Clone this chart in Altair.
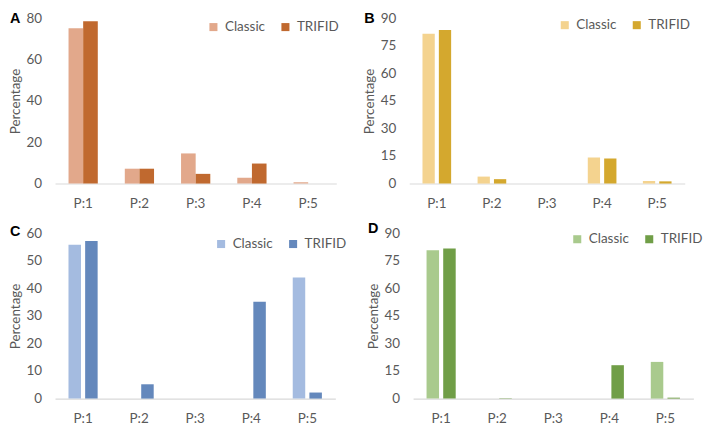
import altair as alt
import pandas as pd

categories = ["P:1", "P:2", "P:3", "P:4", "P:5"]
groups = ["Classic", "TRIFID"]

a_classic = [75.3, 7.2, 14.6, 2.8, 0.6]
a_trifid = [78.7, 7.2, 4.7, 9.7, 0.0]
b_classic = [81.6, 3.8, 0.0, 14.2, 1.4]
b_trifid = [83.7, 2.4, 0.0, 13.6, 1.2]
c_classic = [55.9, 0.0, 0.0, 0.0, 44.0]
c_trifid = [57.3, 5.2, 0.0, 35.2, 2.2]
d_classic = [80.8, 0.0, 0.0, 0.0, 20.0]
d_trifid = [81.8, 0.2, 0.0, 18.2, 0.5]

a_colors = ["#E2A88B", "#C0692F"]
b_colors = ["#F4D38F", "#D4A82E"]
c_colors = ["#A4BBE0", "#6488BC"]
d_colors = ["#A9CA8D", "#709E47"]

GREY = "#595959"
FONT = "Lato"


def panel(letter, classic, trifid, colors, ymax, step, legend_x, legend_y,
          gap, letter_y, width):
    rows = []
    for i, c in enumerate(categories):
        rows.append({"cat": c, "grp": "Classic", "val": classic[i]})
        rows.append({"cat": c, "grp": "TRIFID", "val": trifid[i]})
    df = pd.DataFrame(rows)
    ticks = list(range(0, ymax + 1, step))
    bars = alt.Chart(df).mark_bar().encode(
        x=alt.X("cat:N", sort=categories,
                scale=alt.Scale(paddingInner=0.48, paddingOuter=0.24),
                axis=alt.Axis(title=None, labelAngle=0, ticks=False,
                              domainColor="#D9D9D9", domainWidth=1.2,
                              labelColor=GREY, labelFontSize=14, labelFont=FONT,
                              labelPadding=14, grid=False)),
        xOffset=alt.XOffset("grp:N", sort=groups,
                            scale=alt.Scale(paddingInner=gap, paddingOuter=0)),
        y=alt.Y("val:Q", scale=alt.Scale(domain=[0, ymax], nice=False),
                axis=alt.Axis(title="Percentage", values=ticks, grid=False,
                              domain=False, ticks=False, labelColor=GREY,
                              labelFontSize=14, labelFont=FONT, labelPadding=14,
                              titleColor=GREY, titleFontSize=14, titleFont=FONT,
                              titleFontWeight="normal", titlePadding=4)),
        color=alt.Color("grp:N", sort=groups,
                        scale=alt.Scale(domain=groups, range=colors),
                        legend=alt.Legend(title=None, orient="none",
                                          direction="horizontal",
                                          legendX=legend_x, legendY=legend_y,
                                          symbolType="square", symbolSize=70,
                                          symbolStrokeWidth=0,
                                          labelColor=GREY, labelFontSize=14,
                                          labelFont=FONT, labelOffset=5,
                                          columnPadding=14, padding=0)),
    )
    lab = alt.Chart(pd.DataFrame({"t": [letter]})).mark_text(
        align="left", baseline="middle", fontSize=15, fontWeight="bold",
        font="Liberation Sans", color="#000000"
    ).encode(text="t:N", x=alt.value(-47), y=alt.value(letter_y))
    return alt.layer(bars, lab).properties(width=width, height=172).resolve_scale(
        color="independent")


pa = panel("A", a_classic, a_trifid, a_colors, 80, 20, 158, 2, 0.0, 0, 293)
pb = panel("B", b_classic, b_trifid, b_colors, 90, 15, 155, 0, 0.25, 0, 287)
pc = panel("C", c_classic, c_trifid, c_colors, 60, 10, 166, 4, 0.25, -2, 292)
pd_ = panel("D", d_classic, d_trifid, d_colors, 90, 15, 164, -1, 0.25, -6, 292)

row1 = alt.hconcat(pa, pb, spacing=24).resolve_scale(
    color="independent", x="independent", y="independent", xOffset="independent")
row2 = alt.hconcat(pc, pd_, spacing=20).resolve_scale(
    color="independent", x="independent", y="independent", xOffset="independent")

chart = alt.vconcat(row1, row2, spacing=11).resolve_scale(
    color="independent", x="independent", y="independent", xOffset="independent"
).properties(
    padding={"left": 0, "top": -5, "right": 0, "bottom": 0}
).configure(background="white").configure_view(stroke=None)

chart.save("out.html", embed_options={"renderer": "svg", "actions": False})
